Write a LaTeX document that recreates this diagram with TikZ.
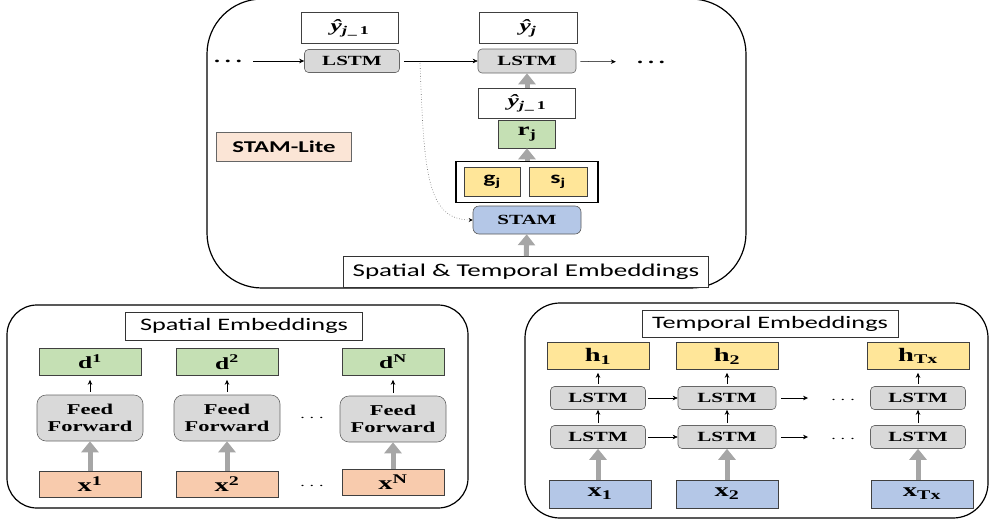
\documentclass[tikz,border=0pt]{standalone}
\usepackage{fontspec}
\setmainfont{Liberation Serif}[FakeStretch=1.5]
\setsansfont{Carlito}[FakeStretch=1.5]
\usetikzlibrary{positioning, arrows.meta, calc}
\definecolor{boxgreen}{RGB}{197,224,180}
\definecolor{boxyellow}{RGB}{255,230,153}
\definecolor{boxpeach}{RGB}{248,203,173}
\definecolor{boxblue}{RGB}{180,199,231}
\definecolor{boxgray}{RGB}{217,217,217}
\definecolor{litepeach}{RGB}{251,229,214}
\definecolor{flowgray}{RGB}{166,166,166}

\begin{document}
\begin{tikzpicture}[x=1pt, y=-1pt, font=\rmfamily\bfseries,
panel/.style={rectangle, draw=black, line width=1.2pt, rounded corners=#1},
cell/.style={rectangle, draw=black!75, line width=0.6pt, fill=#1, inner sep=0pt},
lstm/.style={rectangle, rounded corners=4pt, draw=black!60, line width=0.6pt,
fill=boxgray, inner sep=0pt, minimum width=95pt, minimum height=23pt,
font=\rmfamily\bfseries\fontsize{14}{16}\selectfont},
ff/.style={lstm, rounded corners=9pt, minimum width=106pt, minimum height=46pt,
align=center, font=\rmfamily\bfseries\fontsize{15}{17}\selectfont},
headbox/.style={rectangle, draw=black!80, line width=0.8pt, fill=white, inner sep=0pt,
font=\sffamily\fontsize{17.5}{20}\selectfont},
flow/.style={-{Triangle[length=11pt, width=17pt]}, line width=5pt, draw=flowgray},
link/.style={-{Stealth[length=5pt, width=4.5pt]}, line width=0.7pt},
dotsep/.style={inner sep=1pt, font=\rmfamily\fontsize{12}{14}\selectfont}
]
\useasboundingbox (0,0) rectangle (990,523);

% STAM-Lite panel
\node[panel=55pt, minimum width=539pt, minimum height=289pt] (top) at (476.5,143.5) {};

% Decoder steps
\node[cell=white, minimum width=97pt, minimum height=31pt,
font=\rmfamily\bfseries\fontsize{17}{19}\selectfont] (prevy) at (350,28)
{\textit{ŷ}\textsubscript{\textit{j\hspace{2pt}\_\hspace{2pt}}1}};
\node[lstm] (lstmA) at (352,61) {LSTM};
\node[cell=white, minimum width=98pt, minimum height=31pt,
font=\rmfamily\bfseries\fontsize{17}{19}\selectfont] (cury) at (528,28)
{\textit{ŷ}\textsubscript{\textit{j}}};
\node[lstm, minimum width=98pt, minimum height=24pt] (lstmB) at (527,61) {LSTM};
\node[dotsep, font=\rmfamily\bfseries\fontsize{16}{18}\selectfont] (dotsL) at (228,61)
{.\hspace{5pt}.\hspace{5pt}.};
\node[dotsep, font=\rmfamily\bfseries\fontsize{16}{18}\selectfont] (dotsR) at (651,62)
{.\hspace{5pt}.\hspace{5pt}.};

% Attention stack
\node[cell=white, minimum width=97pt, minimum height=30pt,
font=\rmfamily\bfseries\fontsize{17}{19}\selectfont] (midy) at (527,103)
{\textit{ŷ}\textsubscript{\textit{j\hspace{2pt}\_\hspace{2pt}}1}};
\node[cell=boxgreen, minimum width=57pt, minimum height=28pt,
font=\rmfamily\bfseries\fontsize{18}{20}\selectfont] (rj) at (527,134)
{r\textsubscript{j}};
\node[cell=white, draw=black, line width=1.2pt, minimum width=142pt,
minimum height=41pt] (gs) at (527,182) {};
\node[cell=boxyellow, minimum width=56pt, minimum height=29pt,
font=\sffamily\bfseries\fontsize{17}{19}\selectfont] (gj) at (492,182)
{g\textsubscript{j}};
\node[cell=boxyellow, minimum width=58pt, minimum height=29pt,
font=\sffamily\bfseries\fontsize{17}{19}\selectfont] (sj) at (558,182)
{s\textsubscript{j}};
\node[lstm, fill=boxblue, draw=black!65, rounded corners=6pt, minimum width=108pt,
minimum height=28pt] (stam) at (527,220) {STAM};
\node[headbox, minimum width=365pt, minimum height=31pt,
font=\sffamily\fontsize{18}{20}\selectfont] (embed) at (526,272)
{Spatial \& Temporal Embeddings};
\node[cell=litepeach, draw=black!60, minimum width=135pt, minimum height=29pt,
font=\sffamily\bfseries\fontsize{16.5}{19}\selectfont] (lite) at (284,147) {STAM-Lite};

% Top arrows
\coordinate (tap) at (420,63);
\draw[link, line width=0.5pt, shorten <=10pt] (dotsL) -- (lstmA);
\draw[link, line width=0.5pt, shorten <=4pt] (lstmA) -- (lstmB);
\draw[link, line width=0.5pt, shorten <=4pt, shorten >=20pt] (lstmB) -- (dotsR);
\draw[dotted, draw=black!60, line width=0.6pt, -{Stealth[length=4pt, width=4pt, black]}]
(tap) .. controls (424,170) and (426,220) .. (stam.west);
\draw[flow] (midy) -- (lstmB);
\draw[flow] (gs) -- (rj);
\draw[flow] (embed) -- (stam);

% Spatial panel
\node[panel=30pt, minimum width=461pt, minimum height=203pt] (spat) at (237.5,406.5) {};
\node[headbox, minimum width=237pt, minimum height=28pt] (titleS) at (244,326)
{Spatial Embeddings};
\node[cell=boxgreen, minimum width=102pt, minimum height=27pt,
font=\rmfamily\bfseries\fontsize{17}{19}\selectfont] (d1) at (90,362)
{d\textsuperscript{1}};
\node[cell=boxgreen, minimum width=102pt, minimum height=27pt,
font=\rmfamily\bfseries\fontsize{17}{19}\selectfont] (d2) at (227,362)
{d\textsuperscript{2}};
\node[cell=boxgreen, minimum width=102pt, minimum height=27pt,
font=\rmfamily\bfseries\fontsize{17}{19}\selectfont] (dN) at (393,362)
{d\textsuperscript{N}};
\node[ff] (ff1) at (90,418) {Feed\\Forward};
\node[ff] (ff2) at (227,418) {Feed\\Forward};
\node[ff] (ffN) at (393,419) {Feed\\Forward};
\node[cell=boxpeach, minimum width=102pt, minimum height=26pt,
font=\rmfamily\bfseries\fontsize{19}{21}\selectfont] (x1) at (90,484)
{x\textsuperscript{1}};
\node[cell=boxpeach, minimum width=102pt, minimum height=26pt,
font=\rmfamily\bfseries\fontsize{19}{21}\selectfont] (x2) at (227,484)
{x\textsuperscript{2}};
\node[cell=boxpeach, minimum width=102pt, minimum height=26pt,
font=\rmfamily\bfseries\fontsize{19}{21}\selectfont] (xN) at (393,482)
{x\textsuperscript{N}};
\node[dotsep] (dotsS1) at (312,418) {.\hspace{5pt}.\hspace{5pt}.};
\node[dotsep] (dotsS2) at (312,486) {.\hspace{5pt}.\hspace{5pt}.};

\foreach \c in {1,2,N} {
\draw[link, shorten <=3pt, shorten >=4pt] (ff\c) -- (d\c);
\draw[flow] (x\c) -- (ff\c);
}

% Temporal panel
\node[panel=35pt, minimum width=463pt, minimum height=215pt] (temp) at (756.5,410.5) {};
\node[headbox, minimum width=256pt, minimum height=27pt] (titleT) at (770,324)
{Temporal Embeddings};
\node[cell=boxyellow, minimum width=102pt, minimum height=27pt,
font=\rmfamily\bfseries\fontsize{19}{21}\selectfont] (h1) at (598,356)
{h\textsubscript{1}};
\node[cell=boxyellow, minimum width=102pt, minimum height=27pt,
font=\rmfamily\bfseries\fontsize{19}{21}\selectfont] (h2) at (727,356)
{h\textsubscript{2}};
\node[cell=boxyellow, minimum width=102pt, minimum height=27pt,
font=\rmfamily\bfseries\fontsize{19}{21}\selectfont] (hT) at (918,356)
{h\textsubscript{Tx}};
\node[lstm] (la1) at (598,398) {LSTM};
\node[lstm, minimum width=98pt] (la2) at (727,398) {LSTM};
\node[lstm] (laT) at (918,398) {LSTM};
\node[lstm] (lb1) at (598,437) {LSTM};
\node[lstm, minimum width=98pt] (lb2) at (727,437) {LSTM};
\node[lstm] (lbT) at (918,437) {LSTM};
\node[cell=boxblue, minimum width=102pt, minimum height=28pt,
font=\rmfamily\bfseries\fontsize{19}{21}\selectfont] (xa) at (600,494)
{x\textsubscript{1}};
\node[cell=boxblue, minimum width=102pt, minimum height=28pt,
font=\rmfamily\bfseries\fontsize{19}{21}\selectfont] (xb) at (727,494)
{x\textsubscript{2}};
\node[cell=boxblue, minimum width=102pt, minimum height=28pt,
font=\rmfamily\bfseries\fontsize{19}{21}\selectfont] (xT) at (922,494)
{x\textsubscript{Tx}};
\node[dotsep] (dotsTa) at (843,400) {.\hspace{5pt}.\hspace{5pt}.};
\node[dotsep] (dotsTb) at (843,439) {.\hspace{5pt}.\hspace{5pt}.};

\draw[link, line width=0.5pt, shorten <=2pt] (la1) -- (la2);
\draw[link, line width=0.5pt, shorten <=2pt] (lb1) -- (lb2);
\draw[link, line width=0.5pt, shorten <=5pt, shorten >=22pt] (la2.east) -- (dotsTa.west |- la2.east);
\draw[link, line width=0.5pt, shorten <=5pt, shorten >=22pt] (lb2.east) -- (dotsTb.west |- lb2.east);
\draw[link, shorten <=2pt, shorten >=3pt] (la1) -- (h1);
\draw[link, shorten <=2pt, shorten >=3pt] (la2) -- (h2);
\draw[link, shorten <=2pt, shorten >=3pt] (laT) -- (hT);
\draw[link, shorten <=2pt] (lb1) -- (la1);
\draw[link, shorten <=2pt] (lb2) -- (la2);
\draw[link, shorten <=2pt] (lbT) -- (laT);
\draw[flow] (xa.north -| lb1.south) -- (lb1);
\draw[flow] (xb) -- (lb2);
\draw[flow] (xT.north -| lbT.south) -- (lbT);

\end{tikzpicture}
\end{document}
